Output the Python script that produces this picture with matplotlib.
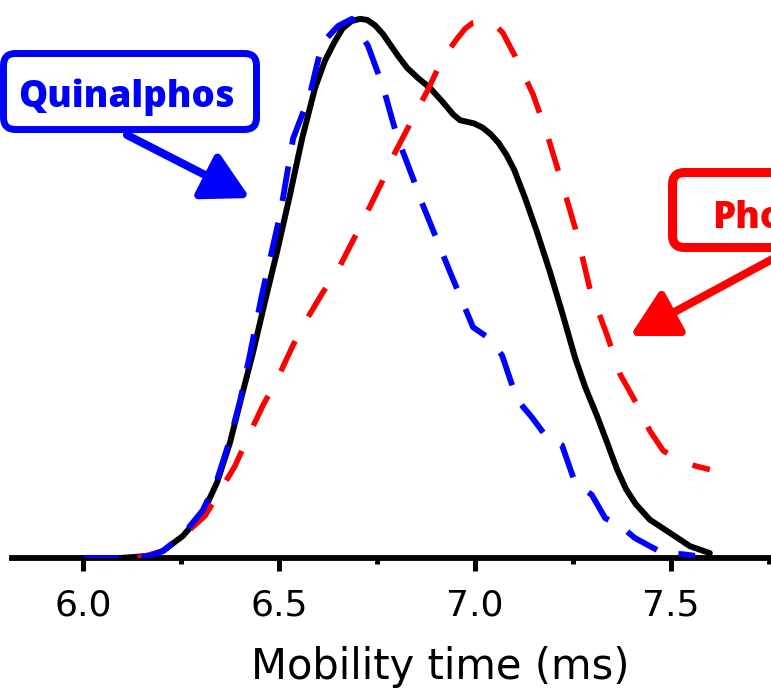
import matplotlib
matplotlib.use("Agg")
import matplotlib.pyplot as plt
from matplotlib.patches import FancyBboxPatch
from matplotlib.transforms import IdentityTransform
from matplotlib.ticker import MultipleLocator

# mixture (solid black)
mix_t = [6.003, 6.094, 6.171, 6.204, 6.255, 6.306, 6.342, 6.375, 6.401, 6.434,
         6.464, 6.495, 6.526, 6.559, 6.592, 6.617, 6.640, 6.662, 6.685, 6.707,
         6.725, 6.745, 6.765, 6.783, 6.805, 6.827, 6.855, 6.885, 6.915, 6.944,
         6.962, 6.980, 6.998, 7.020, 7.040, 7.060, 7.080, 7.100, 7.128, 7.158,
         7.191, 7.222, 7.255, 7.281, 7.311, 7.337, 7.362, 7.385, 7.410, 7.446,
         7.490, 7.548, 7.599]
mix_i = [0.000, 0.000, 0.004, 0.013, 0.041, 0.084, 0.140, 0.214, 0.289, 0.382,
         0.475, 0.568, 0.667, 0.778, 0.872, 0.922, 0.955, 0.982, 0.996, 1.000,
         0.998, 0.988, 0.972, 0.953, 0.930, 0.909, 0.890, 0.872, 0.848, 0.823,
         0.812, 0.809, 0.806, 0.798, 0.786, 0.770, 0.748, 0.720, 0.667, 0.605,
         0.531, 0.456, 0.372, 0.317, 0.264, 0.214, 0.165, 0.128, 0.100, 0.071,
         0.050, 0.022, 0.009]

# Quinalphos (blue dashed)
quin_t = [6.003, 6.094, 6.171, 6.204, 6.255, 6.306, 6.342, 6.375, 6.401, 6.426,
          6.457, 6.503, 6.536, 6.579, 6.610, 6.651, 6.686, 6.727, 6.765, 6.801,
          6.842, 6.860, 6.936, 6.995, 7.031, 7.069, 7.107, 7.145, 7.184, 7.222,
          7.255, 7.298, 7.332, 7.370, 7.408, 7.446, 7.480, 7.531, 7.561]
quin_i = [0.000, 0.000, 0.004, 0.013, 0.043, 0.089, 0.145, 0.220, 0.292, 0.378,
          0.490, 0.637, 0.778, 0.860, 0.955, 0.987, 1.000, 0.950, 0.875, 0.782,
          0.704, 0.667, 0.531, 0.428, 0.410, 0.376, 0.294, 0.261, 0.223, 0.209,
          0.140, 0.117, 0.074, 0.060, 0.037, 0.022, 0.009, 0.007, 0.004]

# Phosalone (red dashed)
phos_t = [6.140, 6.204, 6.255, 6.311, 6.342, 6.388, 6.418, 6.459, 6.495, 6.536,
          6.571, 6.612, 6.648, 6.707, 6.763, 6.788, 6.842, 6.878, 6.918, 6.954,
          6.975, 6.995, 7.026, 7.050, 7.071, 7.102, 7.148, 7.184, 7.222, 7.260,
          7.293, 7.337, 7.370, 7.413, 7.446, 7.480, 7.523, 7.561, 7.599]
phos_i = [0.000, 0.013, 0.041, 0.078, 0.115, 0.171, 0.220, 0.283, 0.331, 0.395,
          0.443, 0.493, 0.531, 0.615, 0.698, 0.741, 0.816, 0.866, 0.927, 0.963,
          0.982, 0.993, 0.997, 0.990, 0.974, 0.931, 0.860, 0.786, 0.695, 0.601,
          0.499, 0.413, 0.341, 0.285, 0.236, 0.199, 0.181, 0.171, 0.164]

W, H = 771, 693
fig = plt.figure(figsize=(W / 100, H / 100), dpi=100)
ax = fig.add_axes([12 / W, (H - 558) / H, (W - 12) / W, 558 / H])

ax.plot(mix_t, mix_i, color="black", lw=4.3, solid_joinstyle="round",
        solid_capstyle="round", zorder=3)
ax.plot(phos_t, phos_i, color="red", lw=4.0, ls=(0, (6.0, 5.0)), zorder=4)
ax.plot(quin_t, quin_i, color="blue", lw=4.2, ls=(0, (6.0, 3.8)), zorder=5)

ax.set_xlim(5.819, 7.755)
ax.set_ylim(0, 1.035)

for s in ["left", "right", "top"]:
    ax.spines[s].set_visible(False)
ax.spines["bottom"].set_linewidth(4.2)
ax.spines["bottom"].set_zorder(2)
ax.set_yticks([])
ax.xaxis.set_major_locator(MultipleLocator(0.5))
ax.xaxis.set_minor_locator(MultipleLocator(0.25))
ax.xaxis.set_major_formatter(matplotlib.ticker.FormatStrFormatter("%.1f"))
ax.tick_params(axis="x", which="major", length=9, width=3.6, labelsize=26, pad=13)
ax.tick_params(axis="x", which="minor", length=4.5, width=3.6)
ax.patch.set_visible(False)

fig.text(440 / W, 1 - 667 / H, "Mobility time (ms)", fontsize=30,
         ha="center", va="center")

# label boxes, in figure pixels (origin bottom-left)
box_q = FancyBboxPatch((3.5, H - 129.5), 253, 76,
                       boxstyle="round,pad=0,rounding_size=12",
                       fc="white", ec="blue", lw=5, transform=IdentityTransform())
fig.add_artist(box_q)
fig.text(126 / W, 1 - 107 / H, "Quinalphos", color="blue", fontsize=26.5,
         fontweight="heavy", family="Open Sans", ha="center", va="baseline")

box_p = FancyBboxPatch((672.5, H - 247.5), 260, 75,
                       boxstyle="round,pad=0,rounding_size=12",
                       fc="white", ec="red", lw=6.5, transform=IdentityTransform())
fig.add_artist(box_p)
fig.text(712 / W, 1 - 228 / H, "Phosalone", color="red", fontsize=26.5,
         fontweight="heavy", family="Open Sans", ha="left", va="baseline")

ax.annotate("", xy=(250, H - 198), xytext=(127, H - 135), xycoords="figure pixels",
            arrowprops=dict(arrowstyle="-|>,head_length=1.75,head_width=0.95",
                            mutation_scale=16, lw=5.8, color="blue",
                            shrinkA=0, shrinkB=0))
ax.annotate("", xy=(630, H - 336), xytext=(815, H - 236), xycoords="figure pixels",
            arrowprops=dict(arrowstyle="-|>,head_length=1.75,head_width=0.95",
                            mutation_scale=16, lw=5.8, color="red",
                            shrinkA=0, shrinkB=0))

fig.savefig("out.png", dpi=100)
